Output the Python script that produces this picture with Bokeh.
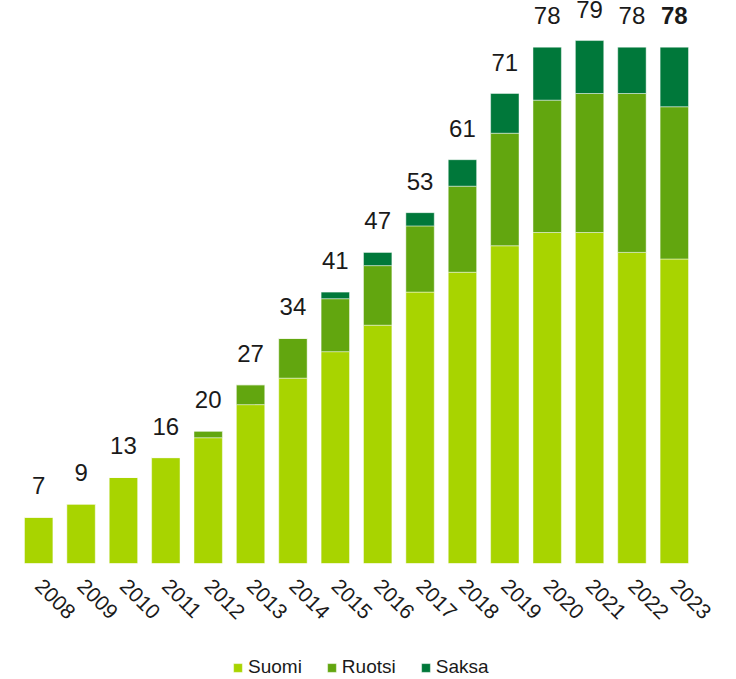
import math
from bokeh.plotting import figure
from bokeh.layouts import column
from bokeh.models import ColumnDataSource, FactorRange, Range1d, LabelSet, Legend, LegendItem
from bokeh.core.properties import value
from bokeh.embed import file_html
from bokeh.resources import INLINE

years = ["2008", "2009", "2010", "2011", "2012", "2013", "2014", "2015",
         "2016", "2017", "2018", "2019", "2020", "2021", "2022", "2023"]
suomi = [7, 9, 13, 16, 19, 24, 28, 32, 36, 41, 44, 48, 50, 50, 47, 46]
ruotsi = [0, 0, 0, 0, 1, 3, 6, 8, 9, 10, 13, 17, 20, 21, 24, 23]
saksa = [0, 0, 0, 0, 0, 0, 0, 1, 2, 2, 4, 6, 8, 8, 7, 9]
totals = [7, 9, 13, 16, 20, 27, 34, 41, 47, 53, 61, 71, 78, 79, 78, 78]
series = ["Suomi", "Ruotsi", "Saksa"]
colors = ["#A8D400", "#62A60F", "#00783A"]

FONT = "Liberation Sans"
TEXT = "#1a1a1a"

source = ColumnDataSource(dict(year=years, Suomi=suomi, Ruotsi=ruotsi, Saksa=saksa))

p = figure(x_range=FactorRange(factors=years), y_range=Range1d(0, 85.05),
           frame_width=678, frame_height=563, output_backend="svg", toolbar_location=None,
           y_axis_location=None, min_border_left=17, min_border_right=41,
           min_border_top=0, min_border_bottom=87)

p.vbar_stack(series, x="year", width=0.67, color=colors, source=source,
             line_color="white", line_alpha=0.45, line_width=1)

lab_norm = ColumnDataSource(dict(year=years[:-1], total=totals[:-1],
                                 label=[str(t) for t in totals[:-1]]))
lab_bold = ColumnDataSource(dict(year=years[-1:], total=totals[-1:],
                                 label=[str(t) for t in totals[-1:]]))
for src, style in ((lab_norm, "normal"), (lab_bold, "bold")):
    p.add_layout(LabelSet(x="year", y="total", text="label", source=src, y_offset=23,
                          text_align="center", text_baseline="alphabetic",
                          text_font=value(FONT), text_font_size="24px",
                          text_font_style=style, text_color=TEXT))

p.xaxis.axis_line_color = None
p.xaxis.major_tick_line_color = None
p.xaxis.minor_tick_line_color = None
p.xaxis.major_label_orientation = -math.pi / 4
p.xaxis.major_label_text_font_size = "21px"
p.xaxis.major_label_text_font = FONT
p.xaxis.major_label_text_color = TEXT
p.xaxis.major_label_standoff = 13
p.grid.grid_line_color = None
p.outline_line_color = None

# legend strip below the chart: key renderers are hidden, only their legend swatches show
lf = figure(x_range=FactorRange(factors=years), y_range=Range1d(0, 85.05),
            frame_width=736, frame_height=29, min_border=0, output_backend="svg",
            toolbar_location=None, x_axis_location=None, y_axis_location=None)
lf.grid.visible = False
lf.outline_line_color = None
keys = [lf.vbar(x="year", top=s, width=0.5, source=source, color=c,
                line_color="white", line_alpha=0.45, visible=False)
        for s, c in zip(series, colors)]
legend = Legend(items=[LegendItem(label=s, renderers=[r]) for s, r in zip(series, keys)],
                location=(232, 1), orientation="horizontal",
                glyph_width=11, glyph_height=11, label_standoff=5, spacing=24,
                padding=0, margin=0, border_line_color=None, background_fill_alpha=0,
                inactive_fill_alpha=0,
                label_text_font_size="19px", label_text_font=FONT,
                label_text_color=TEXT, label_height=20)
lf.add_layout(legend, "center")

layout = column(p, lf, spacing=0)
open("out.html", "w").write(file_html(layout, INLINE))
